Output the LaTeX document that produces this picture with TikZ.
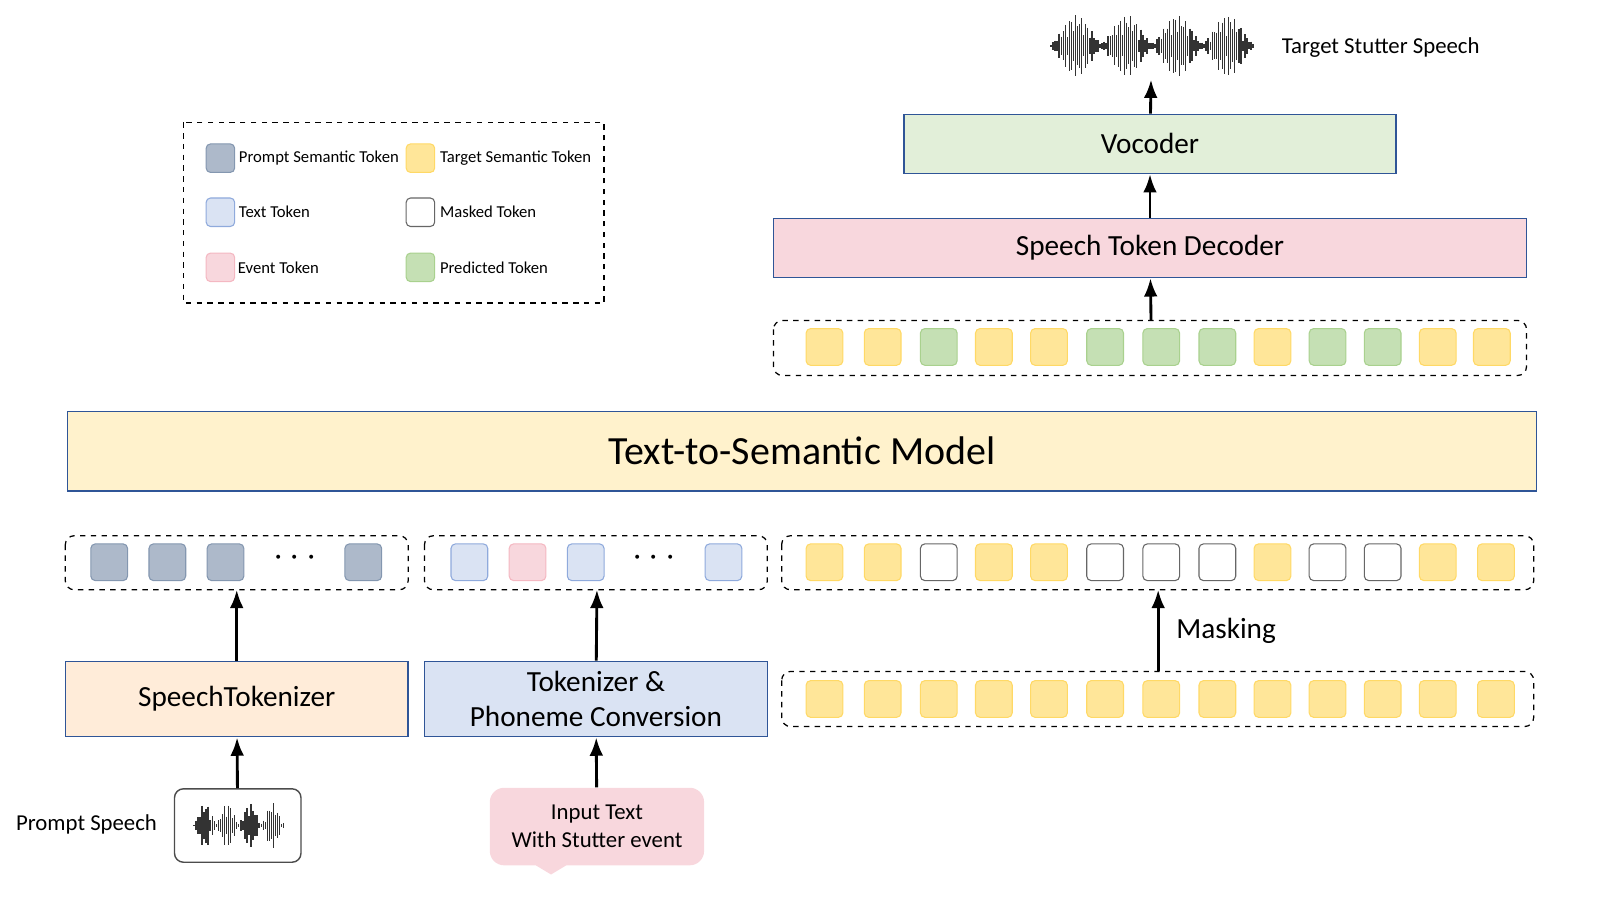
\documentclass[tikz,border=0pt]{standalone}
\usepackage{fontspec}
\setmainfont{Carlito}
\usetikzlibrary{arrows.meta,shapes.callouts}

\definecolor{tokyel}{HTML}{FFE699}
\definecolor{tokyelb}{HTML}{FFD966}
\definecolor{tokgrn}{HTML}{C5E0B4}
\definecolor{tokgrnb}{HTML}{A9D18E}
\definecolor{tokgry}{HTML}{ADB9CA}
\definecolor{tokgryb}{HTML}{8497B0}
\definecolor{tokblu}{HTML}{DAE3F3}
\definecolor{tokblub}{HTML}{8FAADC}
\definecolor{tokpnk}{HTML}{F8D7DD}
\definecolor{tokpnkb}{HTML}{F4B8C2}
\definecolor{boxblue}{HTML}{2F5597}

% waveform: x0, y, samples, amplitude
\newcommand\drawwave[4]{%
  \foreach \i in {0,...,#3}{
    \pgfmathsetmacro\amp{#4*(0.1+0.9*abs(sin(\i/#3*720))^1.5)*(0.3+0.7*abs(sin(mod(\i*67,360))))}
    \draw[line width=0.8pt,black!80] (#1+\i*2,#2-\amp)--(#1+\i*2,#2+\amp);
  }
}

\begin{document}
\begin{tikzpicture}[x=0.02cm, y=-0.02cm, >=Latex,
  tok/.style={draw, rounded corners=2.5pt, minimum size=0.72cm, inner sep=0pt, line width=0.6pt},
  Y/.style={tok, fill=tokyel, draw=tokyelb},
  G/.style={tok, fill=tokgrn, draw=tokgrnb},
  S/.style={tok, fill=tokgry, draw=tokgryb},
  B/.style={tok, fill=tokblu, draw=tokblub},
  P/.style={tok, fill=tokpnk, draw=tokpnkb},
  W/.style={tok, fill=white, draw=black!60},
  block/.style={draw=boxblue, line width=0.8pt, font=\fontsize{16.3}{19.5}\selectfont, align=center},
  row/.style={draw, dashed, rounded corners=5pt, line width=0.7pt},
  arr/.style={->, line width=1.6pt},
  legtxt/.style={anchor=west, font=\fontsize{9.3}{11}\selectfont},
  lbl/.style={font=\fontsize{12.7}{15.5}\selectfont}]

\useasboundingbox (0,0) rectangle (1568,882);

% legend
\draw[dashed, line width=0.7pt] (180,120) rectangle (592,297);
\node[S, minimum size=0.56cm] (l1) at (216,155) {};
\node[legtxt] at (228,155) {Prompt Semantic Token};
\node[Y, minimum size=0.56cm] (l2) at (412,155) {};
\node[legtxt] at (425,155) {Target Semantic Token};
\node[B, minimum size=0.56cm] (l3) at (216,208) {};
\node[legtxt] at (228,208) {Text Token};
\node[W, minimum size=0.56cm] (l4) at (412,208) {};
\node[legtxt] at (425,208) {Masked Token};
\node[P, minimum size=0.56cm] (l5) at (216,262) {};
\node[legtxt] at (227,262) {Event Token};
\node[G, minimum size=0.56cm] (l6) at (412,262) {};
\node[legtxt] at (425,262) {Predicted Token};

% top part
\drawwave{1030}{45}{99}{30}
\coordinate (wavetop) at (1128,78);
\node[anchor=west, lbl] at (1250,47) {Target Stutter Speech};
\node[block, fill=tokgrn!50, minimum width=9.64cm, minimum height=1.16cm] (voc) at (1127,141) {Vocoder};
\node[block, fill=tokpnk, minimum width=14.76cm, minimum height=1.16cm] (dec) at (1127,243) {Speech Token Decoder};
\draw[row] (758,314) rectangle (1496,368);
\coordinate (outrow) at (1128,314);
\foreach \x/\s in {808/Y,865/Y,920/G,974/Y,1028/Y,1083/G,1138/G,1193/G,1247/Y,1301/G,1355/G,1409/Y,1462/Y}
  \node[\s] at (\x,340) {};
\draw[arr] (outrow) -- (dec);
\draw[arr] (dec) -- (voc);
\draw[arr] (voc) -- (wavetop);

% model
\node[block, fill=tokyel!50, minimum width=28.8cm, minimum height=1.56cm,
  font=\fontsize{22.3}{26}\selectfont] (tsm) at (786,442) {Text-to-Semantic Model};

% input token rows
\draw[row] (64,525) rectangle (400,578);
\coordinate (row1) at (232,578);
\foreach \x in {107,164,221,356} \node[S] at (\x,551) {};
\node[font=\huge] at (289,547) {$\cdots$};
\draw[row] (416,525) rectangle (752,578);
\coordinate (row2) at (585,578);
\foreach \x/\s in {460/B,517/P,574/B,709/B} \node[\s] at (\x,551) {};
\node[font=\huge] at (641,547) {$\cdots$};
\draw[row] (766,525) rectangle (1503,578);
\coordinate (row3) at (1135,578);
\foreach \x/\s in {808/Y,865/Y,920/W,974/Y,1028/Y,1083/W,1138/W,1193/W,1247/Y,1301/W,1355/W,1409/Y,1466/Y}
  \node[\s] at (\x,551) {};
\draw[row] (766,658) rectangle (1503,712);
\coordinate (row4) at (1135,658);
\foreach \x in {808,865,920,974,1028,1083,1138,1193,1247,1301,1355,1409,1466}
  \node[Y] at (\x,685) {};
\draw[arr] (row4) -- (row3) node[midway, right=6pt, font=\fontsize{16.3}{19.5}\selectfont] {Masking};

% tokenizers
\node[block, fill=orange!15, minimum width=6.72cm, minimum height=1.48cm] (stok) at (232,685) {SpeechTokenizer};
\node[block, fill=tokblu, minimum width=6.72cm, minimum height=1.48cm] (ptok) at (584,685) {Tokenizer \&\\Phoneme Conversion};
\draw[arr] (stok) -- (row1);
\draw[arr] (ptok) -- (row2);

% inputs
\node[draw=black!70, rounded corners=5pt, line width=0.8pt, minimum width=2.48cm, minimum height=1.44cm] (pspeech) at (233,809) {};
\drawwave{190}{809}{44}{22}
\node[anchor=east, lbl] at (160,808) {Prompt Speech};
\fill[tokpnk] (480,772) [rounded corners=8pt] -- (690,772) -- (690,848) [sharp corners] -- (555,848) -- (540,857) -- (525,848) [rounded corners=8pt] -- (480,848) -- cycle;
\node[align=center, lbl, minimum width=4.2cm, minimum height=1.52cm] (intext) at (585,810) {Input Text\\With Stutter event};
\draw[arr] (pspeech) -- (stok);
\draw[arr] (intext) -- (ptok);

\end{tikzpicture}
\end{document}
